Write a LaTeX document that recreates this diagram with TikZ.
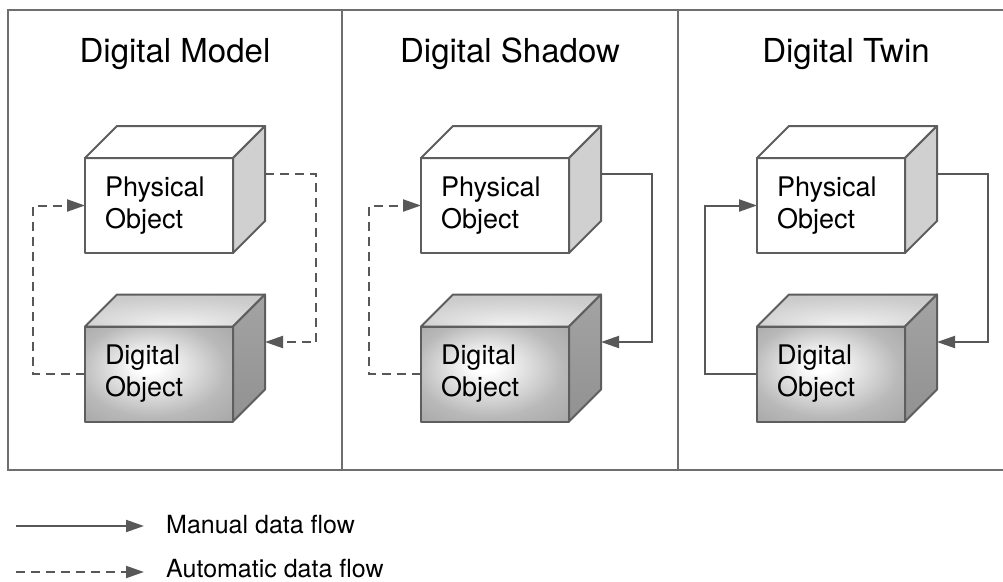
\documentclass[tikz,border=0pt]{standalone}
\usepackage{fontspec}
\setmainfont{TeX Gyre Heros}
\usetikzlibrary{arrows.meta,calc}

\definecolor{edge}{HTML}{5E5E5E}
\definecolor{flow}{HTML}{585858}
\definecolor{framec}{HTML}{6E6E6E}
\definecolor{physside}{HTML}{D0D0D0}

% soft highlight on the front of a digital object
\pgfdeclareradialshading{frontglow}{\pgfpoint{-4bp}{5bp}}{color(0bp)=(white); color(4bp)=(white); color(25bp)=(gray!55); color(36bp)=(gray!68); color(50bp)=(gray!70)}
% lid of a digital object, brightest next to the front face
\pgfdeclareradialshading{topglow}{\pgfpoint{0bp}{-25bp}}{color(0bp)=(gray!10); color(30bp)=(gray!40); color(50bp)=(gray!46)}

\tikzset{
  face/.style={draw=edge, line width=2pt, line join=round},
  physfront/.style={face, fill=white, rectangle, minimum width=148pt, minimum height=95pt,
    inner xsep=20pt, inner ysep=0pt, outer sep=0pt, text width=108pt, align=left,
    font=\fontsize{27}{32}\selectfont},
  digifront/.style={physfront, shade, shading=frontglow},
  flowline/.style={draw=flow, line width=2pt, -{Triangle[length=18pt,width=12pt]}},
  manflow/.style={flowline},
  autoflow/.style={flowline, dash pattern=on 9pt off 6pt},
  paneltitle/.style={anchor=base, inner sep=0pt, font=\fontsize{33}{40}\selectfont},
  legendtext/.style={anchor=base west, inner sep=0pt, font=\fontsize{25}{30}\selectfont},
  framing/.style={draw=framec, line width=2pt}
}

% top and side faces behind a front-face node
\newcommand\cubeback[3]{%
  \path[face,#2] (#1.north west) -- ++(32,-32) -- ++(148,0) -- (#1.north east) -- cycle;
  \path[face,#3] (#1.north east) -- ++(32,-32) -- ++(0,95) -- (#1.south east) -- cycle;
}

\begin{document}
\begin{tikzpicture}[x=1pt, y=-1pt]
  \useasboundingbox (0,0) rectangle (1003,581);

  % panel frame, open towards the right edge
  \draw[framing] (1010,10) -- (8,10) -- (8,470) -- (1010,470);
  \draw[framing] (342,10) -- (342,470);
  \draw[framing] (678,10) -- (678,470);

  \node[paneltitle] (t1) at (175,62) {Digital Model};
  \node[paneltitle] (t2) at (510,62) {Digital Shadow};
  \node[paneltitle] (t3) at (846,62) {Digital Twin};

  \foreach \i/\dx/\rs/\ls in {1/0/autoflow/autoflow, 2/336/manflow/autoflow, 3/672/manflow/manflow} {
    \node[physfront] (P\i) at (159+\dx,205.5) {Physical\\Object};
    \node[digifront] (D\i) at (159+\dx,374) {Digital\\Object};
    \cubeback{P\i}{fill=white}{fill=physside}
    \cubeback{D\i}{shade, shading=topglow}{top color=gray!72, bottom color=gray!86}
    \coordinate (P\i-r) at ($(P\i.east)+(32,-32)$);
    \coordinate (D\i-r) at ($(D\i.east)+(32,-32)$);
    \draw[\rs] (P\i-r) -- ++(51,0) |- (D\i-r);
    \draw[\ls] (D\i.west) -- ++(-52,0) |- (P\i.west);
  }

  % legend
  \coordinate (m0) at (16,526);
  \node[legendtext] (mt) at (166,533) {Manual data flow};
  \draw[manflow, shorten >=22pt] (m0) -- (m0 -| mt.west);
  \coordinate (a0) at (16,572);
  \node[legendtext] (at) at (166,577) {Automatic data flow};
  \draw[autoflow, shorten >=22pt] (a0) -- (a0 -| at.west);
\end{tikzpicture}
\end{document}
